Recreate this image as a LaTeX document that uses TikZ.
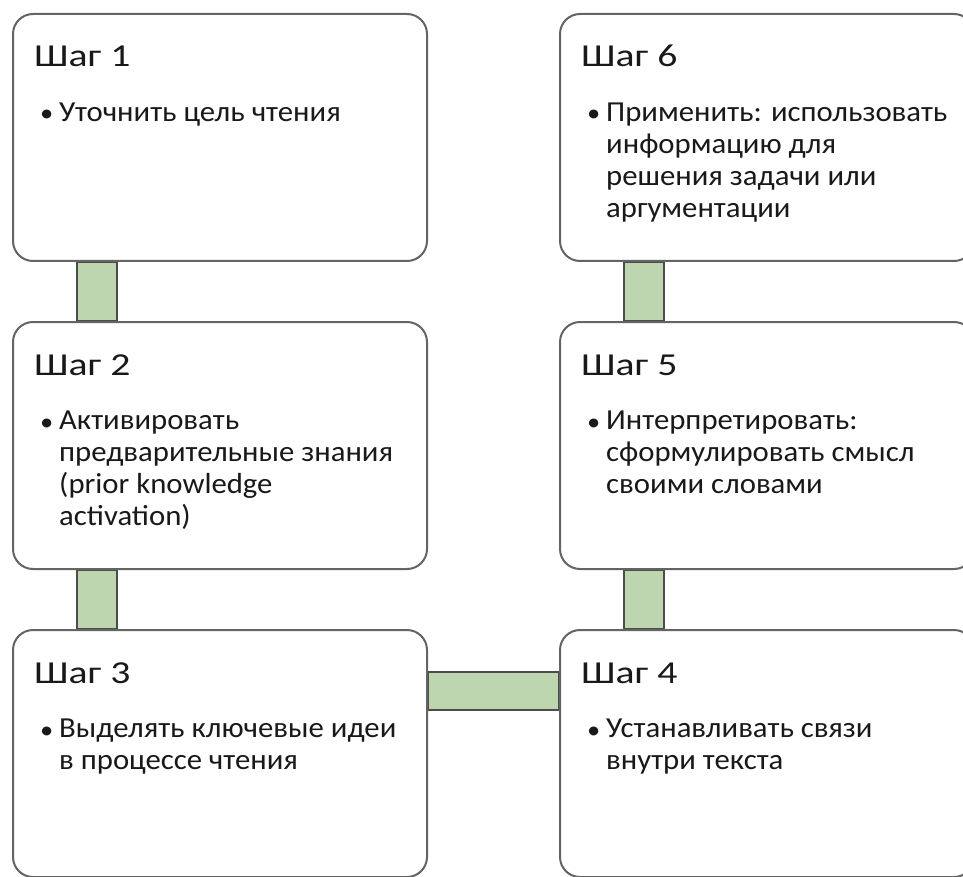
\documentclass[tikz,border=0pt]{standalone}
\usepackage{fontspec}
\setmainfont{Carlito}
\newfontfamily\titlefont[FakeStretch=1.24]{Carlito}
\newfontfamily\bodyfont[FakeStretch=1.06]{Carlito}
\usetikzlibrary{backgrounds}
\definecolor{linkgreen}{RGB}{189,214,175}
\definecolor{boxgray}{RGB}{100,100,100}
\definecolor{txtgray}{RGB}{25,25,25}
\tikzset{
 stepbox/.style={draw=boxgray, line width=2pt, fill=white, rounded corners=20pt,
   minimum width=414pt, minimum height=247pt, anchor=north west, inner sep=0pt},
 steptitle/.style={anchor=base west, inner sep=0pt, font=\titlefont\fontsize{32}{38}\selectfont, text=txtgray},
 stepdot/.style={anchor=base west, inner sep=0pt, font=\bodyfont\fontsize{25}{30}\selectfont, text=txtgray},
 steptext/.style={anchor=north west, inner sep=0pt, align=left, font=\bodyfont\fontsize{29}{32}\selectfont, text=txtgray},
 link/.style={draw=black!70, line width=1.6pt, fill=linkgreen}
}

\begin{document}
\begin{tikzpicture}[x=1pt,y=-1pt]
\useasboundingbox (0,0) rectangle (963,877);
\clip (0,0) rectangle (963,877);
\foreach \n/\x/\y/\txt in {
  1/12/13/{Уточнить цель чтения},
  2/12/321/{Активировать\\предварительные знания\\(prior knowledge\\activation)},
  3/12/629/{Выделять ключевые идеи\\в процессе чтения},
  4/559/629/{Устанавливать связи\\внутри текста},
  5/559/321/{Интерпретировать:\\сформулировать смысл\\своими словами},
  6/559/13/{Применить: использовать\\информацию для\\решения задачи или\\аргументации}} {
 \node[stepbox] (s\n) at (\x,\y) {};
 \node[steptitle] (t\n) at ([xshift=22pt,yshift=-54pt]s\n.north west) {Шаг \n};
 \node[stepdot] (d\n) at ([xshift=28pt,yshift=-109pt]s\n.north west) {•};
 \node[steptext] (b\n) at ([xshift=47pt,yshift=-86pt]s\n.north west) {\rule{0pt}{22pt}\txt};
}
\begin{scope}[on background layer]
\draw[link] ([xshift=65pt]s1.south west) rectangle ([xshift=105pt]s2.north west);
\draw[link] ([xshift=65pt]s2.south west) rectangle ([xshift=105pt]s3.north west);
\draw[link] ([yshift=-43pt]s3.north east) rectangle ([yshift=-81pt]s4.north west);
\draw[link] ([xshift=65pt]s4.north west) rectangle ([xshift=105pt]s5.south west);
\draw[link] ([xshift=65pt]s5.north west) rectangle ([xshift=105pt]s6.south west);
\end{scope}
\end{tikzpicture}
\end{document}
